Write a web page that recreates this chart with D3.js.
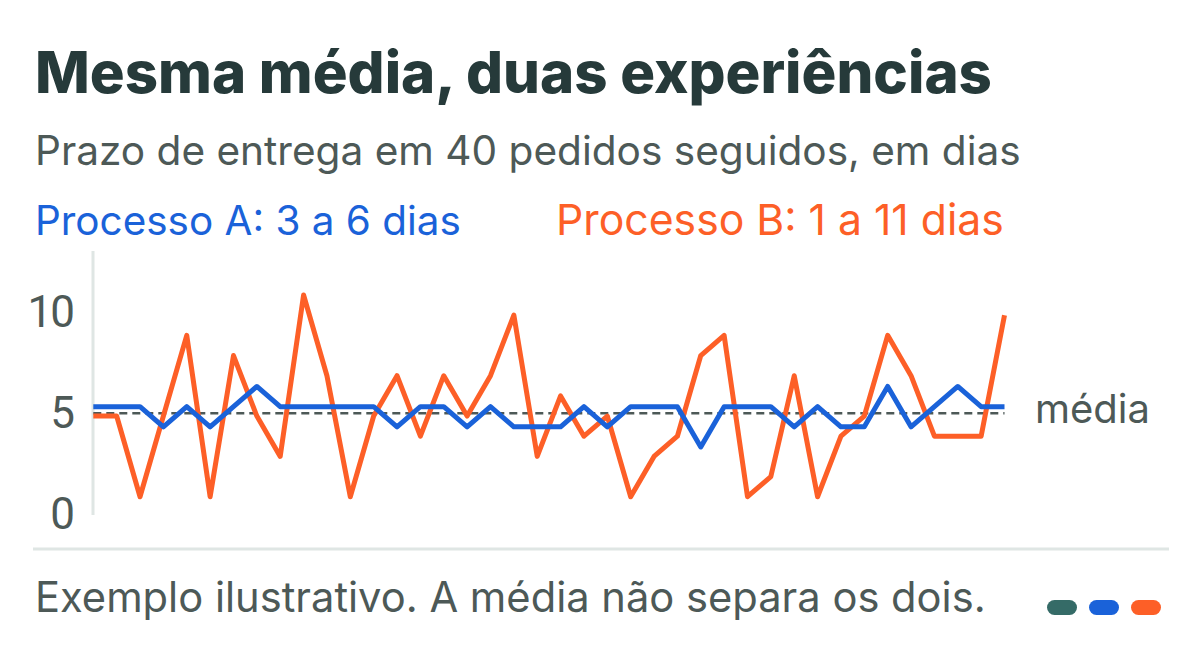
<!DOCTYPE html>
<html>
<head>
<meta charset="utf-8">
<script src="https://cdn.jsdelivr.net/npm/d3@7"></script>
<style>
  body { margin: 0; background: #fff; }
  svg { display: block; }
</style>
</head>
<body>
<div id="container"></div>
<script>
// data: 40 pedidos, prazo em dias
let pedidos = d3.range(40);
let processoA = [5,5,5,4,5,4,5,6,5,5,5,5,5,4,5,5,4,5,4,4,4,5,4,5,5,5,3,5,5,5,4,5,4,4,6,4,5,6,5,5];
let processoB = [5,5,1,5,9,1,8,5,3,11,7,1,5,7,4,7,5,7,10,3,6,4,5,1,3,4,8,9,1,2,7,1,4,5,9,7,4,4,4,10];
let media = 5;
let yTicks = [0, 5, 10];

let w = 1200;
let h = 660;
let ink = "#263a3a";
let grey = "#4d5957";
let rule = "#dfe6e4";
let blue = "#1a62d9";
let orange = "#fd5f27";
let teal = "#356b67";
let font = "Inter, 'Noto Sans', sans-serif";

let viz = d3.select("#container").append("svg")
    .attr("width", w)
    .attr("height", h)
    .style("background-color", "white")
;

// size a text so it spans a given width
function fitText(sel, target){
  sel.attr("font-size", 100);
  let len = sel.node().getComputedTextLength();
  sel.attr("font-size", 100 * target / len);
  return sel;
}

function addText(str, x, y, color, weight, width){
  let t = viz.append("text")
      .attr("x", x)
      .attr("y", y)
      .attr("fill", color)
      .attr("font-family", font)
      .attr("font-weight", weight)
      .text(str);
  return fitText(t, width);
}

addText("Mesma média, duas experiências", 35, 93, ink, 800, 957);
addText("Prazo de entrega em 40 pedidos seguidos, em dias", 35, 165, grey, 400, 986);
addText("Processo A: 3 a 6 dias", 35, 235, blue, 400, 426);
addText("Processo B: 1 a 11 dias", 556, 235, orange, 400, 448);

let xScale = d3.scaleLinear().domain([0, 39]).range([93.3, 1004.5]);
let yScale = d3.scaleLinear().domain([0, 10]).range([514.2, 312.5]);

// vertical axis rule
viz.append("line")
    .attr("x1", 93).attr("x2", 93)
    .attr("y1", 251).attr("y2", 515)
    .attr("stroke", rule)
    .attr("stroke-width", 3)
;

let yAxis = d3.axisLeft(yScale).tickValues(yTicks).tickSize(0).tickPadding(20);
let axisG = viz.append("g")
    .attr("transform", "translate(93,0)")
    .call(yAxis);
axisG.select(".domain").remove();
axisG.selectAll("text")
    .attr("font-family", "Roboto, sans-serif")
    .attr("font-size", 44)
    .attr("letter-spacing", -2)
    .attr("fill", grey)
;

// mean line
viz.append("line")
    .attr("x1", xScale(0)).attr("x2", xScale(39))
    .attr("y1", yScale(media)).attr("y2", yScale(media))
    .attr("stroke", grey)
    .attr("stroke-width", 2.5)
    .attr("stroke-dasharray", "8 5")
;
addText("média", 1035, 423, grey, 400, 115);

let lineMaker = function(values){
  return d3.line()
    .x((d, i) => xScale(i))
    .y(d => yScale(d))(values);
};

// small nudges so the two lines don't sit on top of each other
viz.append("path")
    .attr("d", lineMaker(processoB))
    .attr("transform", "translate(0,2.7)")
    .attr("fill", "none")
    .attr("stroke", orange)
    .attr("stroke-width", 5)
    .attr("stroke-linejoin", "round")
;
viz.append("path")
    .attr("d", lineMaker(processoA))
    .attr("transform", "translate(0,-6.7)")
    .attr("fill", "none")
    .attr("stroke", blue)
    .attr("stroke-width", 5)
    .attr("stroke-linejoin", "round")
;

// bottom rule + footer
viz.append("line")
    .attr("x1", 33).attr("x2", 1169)
    .attr("y1", 549).attr("y2", 549)
    .attr("stroke", rule)
    .attr("stroke-width", 3)
;
addText("Exemplo ilustrativo. A média não separa os dois.", 35, 612, grey, 400, 951);

let pills = [teal, blue, orange];
viz.selectAll(".pill").data(pills).enter()
  .append("rect")
    .attr("class", "pill")
    .attr("x", (d, i) => 1047 + i * 42)
    .attr("y", 600)
    .attr("width", 30)
    .attr("height", 15)
    .attr("rx", 7.5)
    .attr("fill", d => d)
;
</script>
</body>
</html>
